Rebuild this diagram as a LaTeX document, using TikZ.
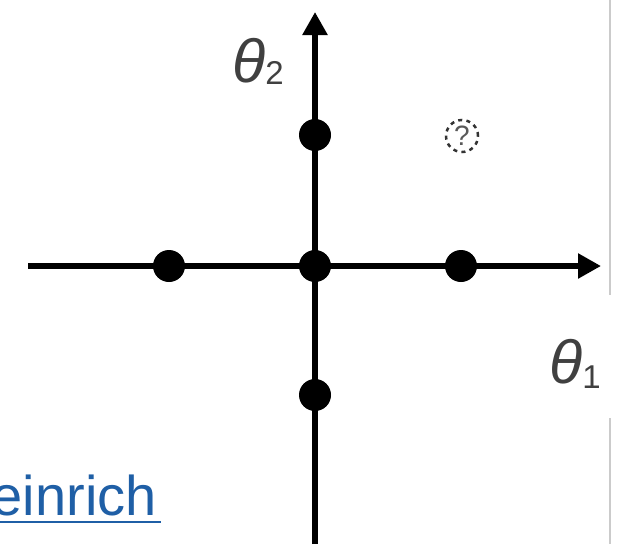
\documentclass[tikz,border=0pt]{standalone}
\usepackage{fontspec}
\setmainfont{Liberation Sans}
\usetikzlibrary{arrows.meta}
\definecolor{labelgray}{HTML}{404040}
\definecolor{linkblue}{HTML}{1F5FA6}
\definecolor{framegray}{HTML}{CBCBCB}
\begin{document}
\begin{tikzpicture}[x=1pt,y=-1pt,
  axis/.style={line width=5.5pt,-{Triangle[length=23pt,width=24pt]}},
  sample/.style={circle,fill=black,inner sep=0pt,minimum size=32pt},
  query/.style={circle,draw=black!80,dash pattern=on 4pt off 4.3pt,line width=2.5pt,
    inner sep=0pt,minimum size=32pt,text=black!65,font=\fontsize{28}{28}\selectfont},
  axislabel/.style={inner sep=0pt,anchor=base west,text=labelgray,font=\fontsize{61}{61}\selectfont},
  subscr/.style={}]
\useasboundingbox (0,0) rectangle (620,544);
\fill[white] (0,0) rectangle (620,544);
% frame edge on the right
\draw[framegray,line width=1.5pt] (610,0) -- (610,295);
\draw[framegray,line width=1.5pt] (610,418) -- (610,544);
% axis end points
\coordinate (xs) at (28,266);
\coordinate (xe) at (601,266);
\coordinate (ys) at (315,544);
\coordinate (ye) at (315,12);
\draw[axis] (xs) -- (xe);
\draw[axis] (ys) -- (ye);
% grid samples
\node[sample] (c) at (315,266) {};
\node[sample] (l) at (169,266) {};
\node[sample] (r) at (461,266) {};
\node[sample] (u) at (315,135) {};
\node[sample] (d) at (315,395) {};
% unknown point
\node[query] (q) at (462,136) {?};
% axis labels
\node[axislabel] (t2) at (232,82) {\textit{θ}\raisebox{-2pt}{\fontsize{33}{33}\selectfont 2}};
\node[axislabel] (t1) at (549,383) {\textit{θ}\raisebox{-5pt}{\fontsize{33}{33}\selectfont 1}};
% link text
\node[inner sep=0pt,anchor=base east,text=linkblue,font=\fontsize{56}{56}\selectfont] (link) at (157,515) {einrich};
\draw[linkblue,line width=2.5pt] (0,522) -- (161,522);
\end{tikzpicture}
\end{document}
